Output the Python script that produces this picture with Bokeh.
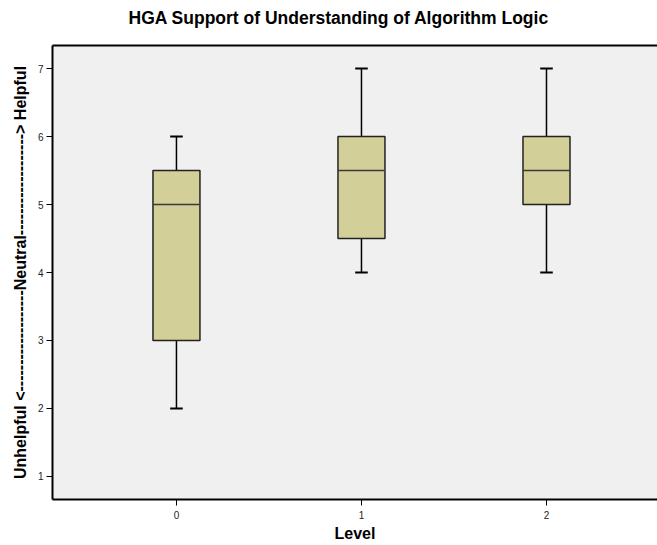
from bokeh.plotting import figure
from bokeh.models import ColumnDataSource, FixedTicker, LinearAxis
from bokeh.embed import file_html
from bokeh.resources import INLINE

# Data
levels = [0, 1, 2]
mins = [2.0, 4.0, 4.0]
q1s = [3.0, 4.5, 5.0]
medians = [5.0, 5.5, 5.5]
q3s = [5.5, 6.0, 6.0]
maxs = [6.0, 7.0, 7.0]
y_ticks = [1, 2, 3, 4, 5, 6, 7]

box_w = 0.254
cap_w = 0.068

src = ColumnDataSource(dict(
    x=levels, lo=mins, q1=q1s, med=medians, q3=q3s, hi=maxs,
    bl=[v - box_w / 2 for v in levels], br=[v + box_w / 2 for v in levels],
    cl=[v - cap_w / 2 for v in levels], cr=[v + cap_w / 2 for v in levels],
))

p = figure(width=657, height=545, x_range=(-0.67, 2.60), y_range=(0.66, 7.34),
           output_backend="svg", toolbar_location=None,
           title="HGA Support of Understanding of Algorithm Logic",
           min_border_left=52, min_border_right=0, min_border_top=45,
           min_border_bottom=46)

p.background_fill_color = "#f0f0f0"
p.border_fill_color = "white"
p.outline_line_color = None
p.xgrid.visible = False
p.ygrid.visible = False

p.title.text_font = "Liberation Sans"
p.title.text_font_size = "17.5px"
p.title.text_font_style = "bold"
p.title.text_color = "black"
p.title.align = "left"
p.title.offset = 76
p.title.standoff = 0

xax = p.below[0]
yax = p.left[0]

for ax in (xax, yax):
    ax.axis_line_color = "black"
    ax.axis_line_width = 2
    ax.major_tick_line_color = "black"
    ax.major_tick_line_width = 1
    ax.major_tick_out = 6
    ax.major_tick_in = 0
    ax.minor_tick_line_color = None
    ax.major_label_text_font = "Liberation Sans"
    ax.major_label_text_font_size = "10px"
    ax.major_label_text_color = "#222222"
    ax.axis_label_text_font = "Liberation Sans"
    ax.axis_label_text_font_style = "bold"
    ax.axis_label_text_color = "black"

xax.ticker = FixedTicker(ticks=levels)
yax.ticker = FixedTicker(ticks=y_ticks)
xax.axis_label = "Level"
xax.axis_label_text_font_size = "16px"
xax.axis_label_text_line_height = 1.0
xax.axis_label_standoff = 3
xax.major_label_standoff = 5
yax.axis_label = "Unhelpful <" + "-" * 19 + "Neutral" + "-" * 19 + "> Helpful"
yax.axis_label_text_font_size = "16px"
yax.axis_label_standoff = 6
yax.major_label_standoff = 3

# top border of the frame (no right border in the reference); its blank
# label also acts as spacing between the frame and the title
top_axis = LinearAxis(ticker=FixedTicker(ticks=[]), axis_line_color="black",
                      axis_line_width=2, major_tick_line_color=None,
                      minor_tick_line_color=None, major_label_text_font_size="0px",
                      axis_label=" ", axis_label_text_font_size="10px",
                      axis_label_standoff=4)
p.add_layout(top_axis, "above")

# whiskers
p.segment(x0="x", y0="q3", x1="x", y1="hi", source=src, line_color="black", line_width=1.5)
p.segment(x0="x", y0="q1", x1="x", y1="lo", source=src, line_color="black", line_width=1.5)
# caps
p.segment(x0="cl", y0="hi", x1="cr", y1="hi", source=src, line_color="black", line_width=2)
p.segment(x0="cl", y0="lo", x1="cr", y1="lo", source=src, line_color="black", line_width=2)
# boxes
p.quad(left="bl", right="br", bottom="q1", top="q3", source=src,
       fill_color="#d3cf99", line_color="#222222", line_width=1.5)
# medians
p.segment(x0="bl", y0="med", x1="br", y1="med", source=src, line_color="#3a3a3a", line_width=1.5)

open("out.html", "w").write(file_html(p, INLINE))
